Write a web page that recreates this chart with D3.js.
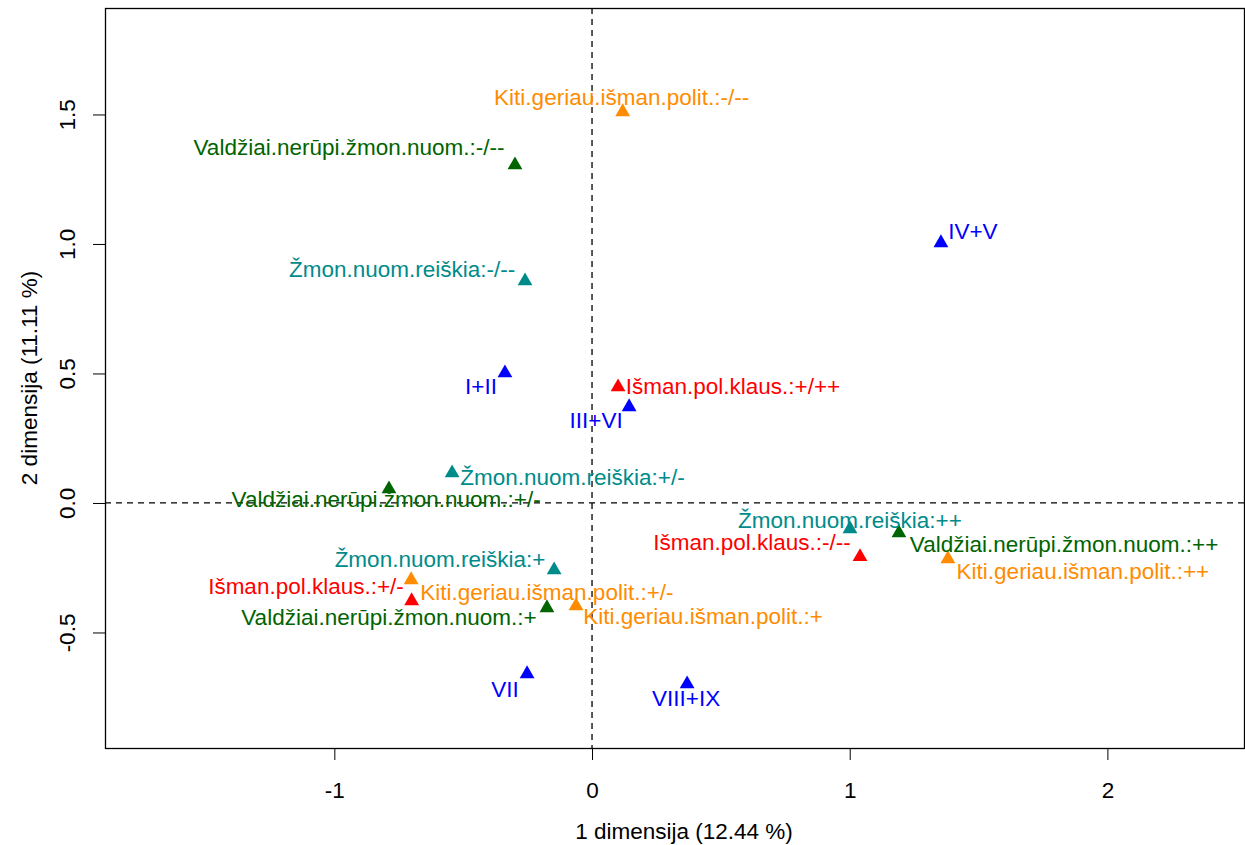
<!DOCTYPE html>
<html><head><meta charset="utf-8">
<script src="https://cdn.jsdelivr.net/npm/d3@7"></script>
<style>body{margin:0;background:#fff}svg{display:block}text{font-family:"Liberation Sans",Arial,Helvetica,sans-serif}</style>
</head><body>
<svg id="c" width="1245" height="845"></svg>
<script>
const labels = ["Kiti.geriau.išman.polit.:-/--","Valdžiai.nerūpi.žmon.nuom.:-/--","Žmon.nuom.reiškia:-/--","I+II","III+VI","Išman.pol.klaus.:+/++","IV+V","Žmon.nuom.reiškia:+/-","Valdžiai.nerūpi.žmon.nuom.:+/-","Žmon.nuom.reiškia:+","Išman.pol.klaus.:+/-","Kiti.geriau.išman.polit.:+/-","Valdžiai.nerūpi.žmon.nuom.:+","Kiti.geriau.išman.polit.:+","Žmon.nuom.reiškia:++","Išman.pol.klaus.:-/--","Valdžiai.nerūpi.žmon.nuom.:++","Kiti.geriau.išman.polit.:++","VII","VIII+IX"];
const groups = ["kiti","vald","zmon","row","row","isman","row","zmon","vald","zmon","isman","kiti","vald","kiti","zmon","isman","vald","kiti","row","row"];
const dim1 = [0.119,-0.299,-0.260,-0.338,0.144,0.101,1.354,-0.543,-0.788,-0.147,-0.700,-0.702,-0.175,-0.062,1.001,1.040,1.191,1.381,-0.252,0.369];
const dim2 = [1.510,1.305,0.857,0.502,0.371,0.448,1.004,0.116,0.054,-0.259,-0.378,-0.297,-0.405,-0.398,-0.100,-0.208,-0.116,-0.216,-0.660,-0.699];
const labDim1 = [0.115,-0.943,-0.737,-0.431,0.016,0.547,1.478,-0.076,-0.799,-0.590,-1.110,-0.175,-0.788,0.431,1.001,0.621,1.832,1.905,-0.338,0.365];
const labDim2 = [1.564,1.371,0.900,0.448,0.317,0.448,1.050,0.100,0.012,-0.220,-0.324,-0.344,-0.444,-0.440,-0.066,-0.154,-0.162,-0.263,-0.722,-0.753];
const xTicks = [-1,0,1,2];
const yTicks = [-0.5,0.0,0.5,1.0,1.5];
const xTickLabels = ["-1","0","1","2"];
const yTickLabels = ["-0.5","0.0","0.5","1.0","1.5"];
const xTitle = "1 dimensija (12.44 %)";
const yTitle = "2 dimensija (11.11 %)";
const groupColors = {row:"#0000FF",isman:"#FF0000",kiti:"#FF8C00",vald:"#006400",zmon:"#008B8B"};

const svg = d3.select("#c");
const L=105,R=1244,T=8,B=748;
const x = d3.scaleLinear().domain([-1.89,2.534]).range([105,1245]);
const y = d3.scaleLinear().domain([-0.946,1.911]).range([748,8]);
const FS = 22.5;

// dashed zero lines
svg.append("line").attr("x1",x(0)).attr("x2",x(0)).attr("y1",T).attr("y2",B)
  .attr("stroke","#000").attr("stroke-width",1.3).attr("stroke-dasharray","6,5");
svg.append("line").attr("x1",L).attr("x2",R).attr("y1",y(0)).attr("y2",y(0))
  .attr("stroke","#000").attr("stroke-width",1.3).attr("stroke-dasharray","6,5");

// axes
const xa = svg.append("g").attr("transform",`translate(0,${B})`)
  .call(d3.axisBottom(x).tickValues(xTicks).tickFormat((d,i)=>xTickLabels[i]).tickSize(12).tickPadding(0));
xa.select(".domain").remove();
xa.append("line").attr("x1",x(xTicks[0])).attr("x2",x(xTicks[xTicks.length-1])).attr("y1",0.5).attr("y2",0.5).attr("stroke","#000");
xa.selectAll(".tick text").attr("font-size",FS).attr("font-family","Liberation Sans, Arial").attr("fill","#000")
  .attr("y",42).attr("dy",null).attr("dominant-baseline","central");
xa.selectAll(".tick line").attr("stroke","#000");

const ya = svg.append("g").attr("transform",`translate(${L},0)`)
  .call(d3.axisLeft(y).tickValues(yTicks).tickFormat((d,i)=>yTickLabels[i]).tickSize(12).tickPadding(0));
ya.select(".domain").remove();
ya.selectAll(".tick line").attr("stroke","#000");
ya.selectAll(".tick text").attr("font-size",FS).attr("font-family","Liberation Sans, Arial").attr("fill","#000")
  .attr("text-anchor","middle").attr("x",0).attr("dy",null).attr("dominant-baseline","central")
  .attr("transform","translate(-38,0) rotate(-90)");

// box
svg.append("rect").attr("x",L+0.5).attr("y",T+0.5).attr("width",R-L).attr("height",B-T)
  .attr("fill","none").attr("stroke","#000").attr("stroke-width",1.3);

// titles
svg.append("text").attr("x",684).attr("y",831).attr("text-anchor","middle").attr("dominant-baseline","central")
  .attr("font-size",FS).text(xTitle);
svg.append("text").attr("transform",`translate(29,${(T+B)/2}) rotate(-90)`).attr("text-anchor","middle").attr("dominant-baseline","central")
  .attr("font-size",FS).text(yTitle);

// points
const sym = d3.symbol().type(d3.symbolTriangle).size(95);
const idx = d3.range(labels.length);
svg.append("g").selectAll("path").data(idx).join("path")
  .attr("d",sym).attr("transform",i=>`translate(${x(dim1[i])},${y(dim2[i])})`)
  .attr("fill",i=>groupColors[groups[i]]);

// labels
svg.append("g").selectAll("text").data(idx).join("text")
  .attr("x",i=>x(labDim1[i])).attr("y",i=>y(labDim2[i]))
  .attr("text-anchor","middle").attr("dominant-baseline","central")
  .attr("font-size",FS).attr("fill",i=>groupColors[groups[i]]).text(i=>labels[i]);
</script>
</body></html>
